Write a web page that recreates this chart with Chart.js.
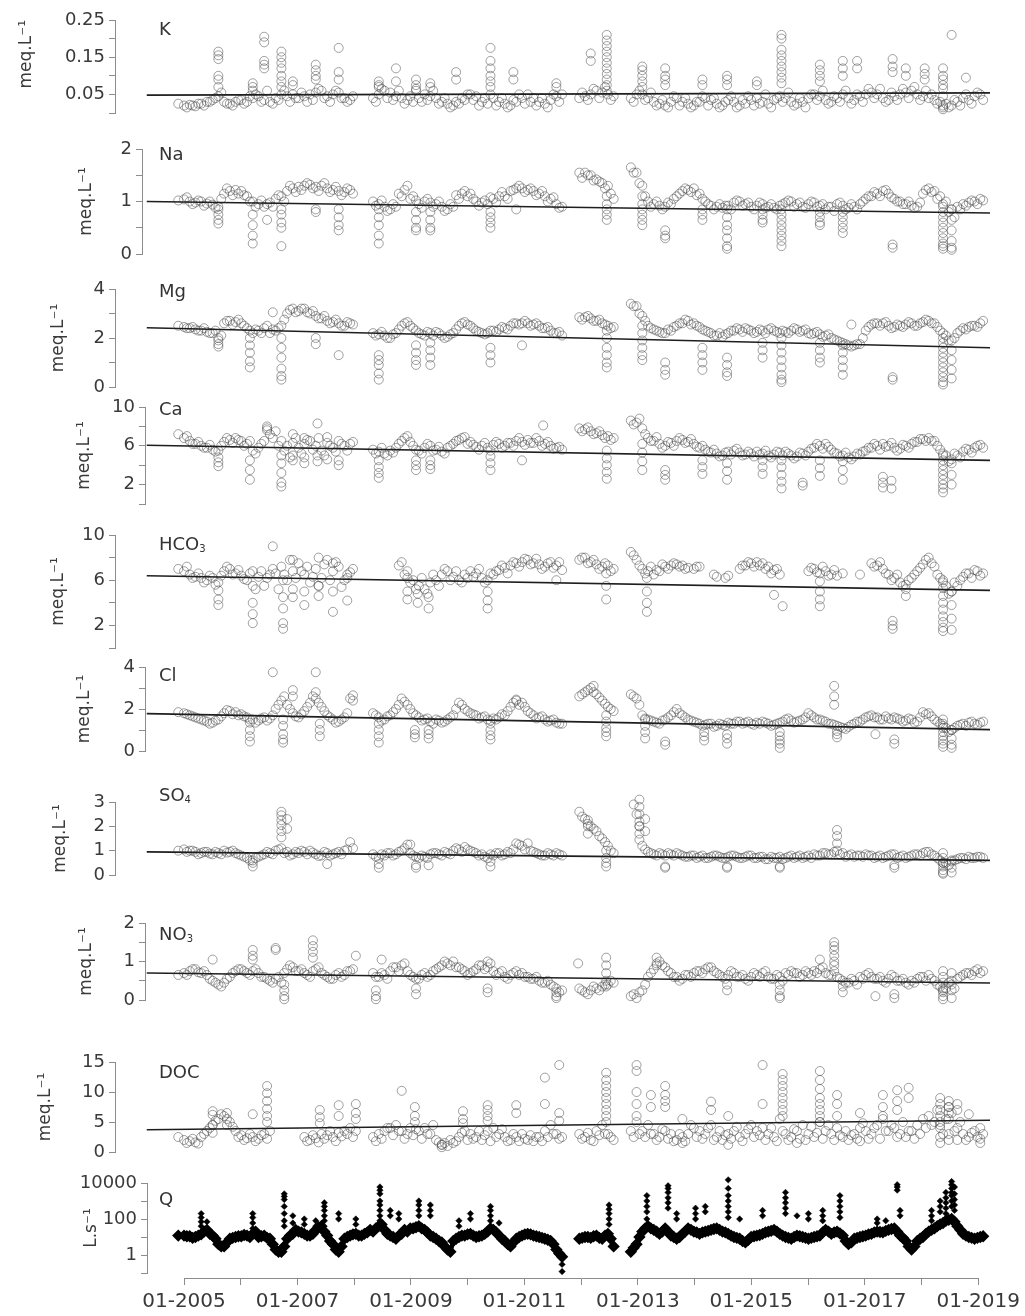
<!DOCTYPE html>
<html>
<head>
<meta charset="utf-8">
<script src="https://cdn.jsdelivr.net/npm/chart.js@4.4.1/dist/chart.umd.min.js"></script>
<style>
  html, body { margin: 0; padding: 0; background: #fff; }
  #page { position: relative; width: 1025px; height: 1316px; overflow: hidden; font-family: 'DejaVu Sans', Verdana, sans-serif; }
  #page canvas { position: absolute; left: 0; }
  .panel-label { position: absolute; left: 159px; font-size: 18px; line-height: 1; color: #333; white-space: nowrap; }
  .panel-label sub { font-size: 10px; vertical-align: -2px; }
</style>
</head>
<body>
<div id="page"></div>
<script>
// sampling dates (decimal years): first round of samples ...
const sampleDates = [2004.9,
  2005.0, 2005.1, 2005.2, 2005.3, 2005.4, 2005.5, 2005.6, 2005.7, 2005.8, 2005.9,
  2006.0, 2006.1, 2006.2, 2006.3, 2006.4, 2006.5, 2006.6, 2006.7, 2006.8, 2006.9,
  2007.0, 2007.1, 2007.2, 2007.3, 2007.4, 2007.5, 2007.6, 2007.7, 2007.8, 2007.9,
  2008.0, 2008.1, 2008.2, 2008.3, 2008.4, 2008.5, 2008.6, 2008.7, 2008.8, 2008.9,
  2009.0, 2009.1, 2009.2, 2009.3, 2009.4, 2009.5, 2009.6, 2009.7, 2009.8, 2009.9,
  2010.0, 2010.1, 2010.2, 2010.3, 2010.4, 2010.5, 2010.6, 2010.7, 2010.8, 2010.9,
  2011.0, 2011.1, 2011.2, 2011.3, 2011.4, 2011.5, 2011.6, 2011.7, 2011.8, 2011.9,
  2012.0, 2012.1, 2012.2, 2012.3, 2012.4, 2012.5, 2012.6, 2012.7, 2012.8, 2012.9,
  2013.0, 2013.1, 2013.2, 2013.3, 2013.4, 2013.5, 2013.6, 2013.7, 2013.8, 2013.9,
  2014.0, 2014.1, 2014.2, 2014.3, 2014.4, 2014.5, 2014.6, 2014.7, 2014.8, 2014.9,
  2015.0, 2015.1, 2015.2, 2015.3, 2015.4, 2015.5, 2015.6, 2015.7, 2015.8, 2015.9,
  2016.0, 2016.1, 2016.2, 2016.3, 2016.4, 2016.5, 2016.6, 2016.7, 2016.8, 2016.9,
  2017.0, 2017.1, 2017.2, 2017.3, 2017.4, 2017.5, 2017.6, 2017.7, 2017.8, 2017.9,
  2018.0, 2018.1, 2018.2, 2018.3, 2018.4, 2018.5, 2018.6, 2018.7, 2018.8, 2018.9];
// ... and the samples taken in between
const sampleDates2 = [
  2005.05, 2005.15, 2005.25, 2005.35, 2005.45, 2005.55, 2005.65, 2005.75, 2005.85, 2005.95,
  2006.05, 2006.15, 2006.25, 2006.35, 2006.45, 2006.55, 2006.65, 2006.75, 2006.85, 2006.95,
  2007.05, 2007.15, 2007.25, 2007.35, 2007.45, 2007.55, 2007.65, 2007.75, 2007.85, 2007.95,
  2008.05, 2008.15, 2008.25, 2008.35, 2008.45, 2008.55, 2008.65, 2008.75, 2008.85, 2008.95,
  2009.05, 2009.15, 2009.25, 2009.35, 2009.45, 2009.55, 2009.65, 2009.75, 2009.85, 2009.95,
  2010.05, 2010.15, 2010.25, 2010.35, 2010.45, 2010.55, 2010.65, 2010.75, 2010.85, 2010.95,
  2011.05, 2011.15, 2011.25, 2011.35, 2011.45, 2011.55, 2011.65, 2011.75, 2011.85, 2011.95,
  2012.05, 2012.15, 2012.25, 2012.35, 2012.45, 2012.55, 2012.65, 2012.75, 2012.85, 2012.95,
  2013.05, 2013.15, 2013.25, 2013.35, 2013.45, 2013.55, 2013.65, 2013.75, 2013.85, 2013.95,
  2014.05, 2014.15, 2014.25, 2014.35, 2014.45, 2014.55, 2014.65, 2014.75, 2014.85, 2014.95,
  2015.05, 2015.15, 2015.25, 2015.35, 2015.45, 2015.55, 2015.65, 2015.75, 2015.85, 2015.95,
  2016.05, 2016.15, 2016.25, 2016.35, 2016.45, 2016.55, 2016.65, 2016.75, 2016.85, 2016.95,
  2017.05, 2017.15, 2017.25, 2017.35, 2017.45, 2017.55, 2017.65, 2017.75, 2017.85, 2017.95,
  2018.05, 2018.15, 2018.25, 2018.35, 2018.45, 2018.55, 2018.65, 2018.75, 2018.85, 2018.95];

const trendDates = [2004.35, 2019.07];

// K
const kValues = [0.025,
  0.02, 0.022, 0.018, 0.025, 0.03, 0.035, 0.045, 0.03, 0.025, 0.03,
  0.035, 0.03, 0.04, 0.045, 0.035, 0.03, 0.04, 0.05, 0.045, 0.05,
  0.04, 0.045, 0.05, 0.055, 0.06, 0.045, 0.05, 0.055, 0.04, 0.035,
  null, null, null, 0.04, 0.05, 0.06, 0.055, 0.045, 0.04, 0.035,
  0.03, 0.04, 0.05, 0.045, 0.04, 0.03, 0.025, 0.02, 0.025, 0.035,
  0.05, 0.045, 0.03, 0.025, 0.04, 0.03, 0.025, 0.02, 0.03, 0.04,
  0.05, 0.04, 0.03, 0.025, 0.035, 0.045, 0.05, null, null, 0.04,
  0.045, 0.05, 0.06, 0.055, 0.05, 0.045, null, null, 0.04, 0.05,
  0.05, 0.04, 0.03, 0.025, 0.02, 0.03, 0.04, 0.03, 0.025, 0.02,
  0.03, 0.04, 0.035, 0.025, 0.02, 0.035, 0.03, 0.02, 0.025, 0.035,
  0.04, 0.03, 0.025, 0.035, 0.045, 0.04, 0.03, 0.025, 0.03, 0.04,
  0.05, 0.045, 0.035, 0.03, 0.04, 0.05, 0.04, 0.035, 0.045, 0.05,
  0.055, 0.05, 0.04, 0.035, 0.045, 0.05, 0.055, 0.06, 0.05, 0.045,
  0.04, 0.035, 0.03, 0.025, 0.02, 0.03, 0.04, 0.035, 0.045, 0.05];
const kValues2 = [
  0.015, 0.02, 0.025, 0.02, 0.03, 0.04, 0.055, 0.025, 0.02, 0.035,
  0.025, 0.045, 0.05, 0.03, 0.06, 0.025, 0.035, 0.06, 0.03, 0.04,
  0.055, 0.03, 0.035, 0.065, 0.04, 0.03, 0.06, 0.04, 0.03, 0.045,
  null, null, null, 0.03, 0.065, 0.04, 0.035, 0.06, 0.025, 0.045,
  0.06, 0.03, 0.035, 0.06, 0.025, 0.04, 0.015, 0.03, 0.04, 0.05,
  0.035, 0.02, 0.04, 0.05, 0.02, 0.04, 0.015, 0.035, 0.05, 0.025,
  0.03, 0.02, 0.04, 0.015, 0.05, 0.03, null, null, null, 0.055,
  0.035, 0.065, 0.04, 0.07, 0.035, null, null, null, 0.03, 0.06,
  0.035, 0.055, 0.02, 0.035, 0.015, 0.045, 0.02, 0.04, 0.015, 0.03,
  0.045, 0.02, 0.04, 0.015, 0.03, 0.045, 0.015, 0.035, 0.045, 0.02,
  0.025, 0.05, 0.015, 0.04, 0.03, 0.055, 0.02, 0.04, 0.015, 0.05,
  0.035, 0.06, 0.025, 0.045, 0.03, 0.06, 0.025, 0.05, 0.03, 0.065,
  0.04, 0.065, 0.03, 0.055, 0.035, 0.065, 0.04, 0.07, 0.035, 0.06,
  0.05, 0.025, 0.045, 0.015, 0.035, 0.02, 0.05, 0.025, 0.055, 0.035];
const kBursts = [
  [2005.6, 0.165, 0.155, 0.145, 0.1, 0.09, 0.07], [2006.2, 0.08, 0.07, 0.06],
  [2006.4, 0.205, 0.19, 0.14, 0.13, 0.12], [2006.7, 0.165, 0.15, 0.135, 0.12, 0.1, 0.085, 0.07],
  [2006.9, 0.085, 0.075], [2007.3, 0.13, 0.115, 0.1, 0.09], [2007.7, 0.175, 0.11, 0.09],
  [2008.4, 0.085, 0.075, 0.07], [2008.7, 0.12, 0.085], [2009.05, 0.09, 0.075, 0.065],
  [2009.3, 0.08, 0.07], [2009.75, 0.11, 0.09], [2010.35, 0.175, 0.14, 0.12, 0.1, 0.085, 0.07],
  [2010.75, 0.11, 0.09], [2011.5, 0.08, 0.07], [2012.1, 0.16, 0.14],
  [2012.38, 0.21, 0.195, 0.18, 0.165, 0.15, 0.135, 0.12, 0.105, 0.09, 0.075, 0.06],
  [2013.0, 0.125, 0.115, 0.1, 0.085, 0.07], [2013.4, 0.12, 0.1, 0.09, 0.075],
  [2014.05, 0.09, 0.075], [2014.48, 0.1, 0.09, 0.075], [2015.0, 0.085, 0.075],
  [2015.43, 0.21, 0.2, 0.17, 0.155, 0.14, 0.125, 0.11, 0.095, 0.08],
  [2016.1, 0.13, 0.115, 0.1, 0.085], [2016.5, 0.14, 0.12, 0.1], [2016.75, 0.14, 0.12],
  [2017.37, 0.145, 0.125, 0.11], [2017.6, 0.12, 0.1], [2017.93, 0.12, 0.105, 0.09],
  [2018.25, 0.12, 0.1, 0.09, 0.075, 0.065, 0.02, 0.015, 0.01], [2018.4, 0.21], [2018.65, 0.095]];
const kTrend = [0.048, 0.054];
const kTicks = [0, 0.05, 0.1, 0.15, 0.2, 0.25];
const kTickLabels = ['', '0.05', '', '0.15', '', '0.25'];

// Na
const naValues = [1.02,
  1.04, 1.0, 0.98, 1.0, 0.96, 0.94, 0.9, 1.15, 1.2, 1.22,
  1.2, 1.1, 1.0, 0.95, 0.9, 0.98, 1.05, 1.1, 1.2, 1.25,
  1.28, 1.3, 1.32, 1.28, 1.3, 1.25, 1.22, 1.2, 1.18, 1.22,
  null, null, null, 1.0, 0.95, 0.9, 0.85, 0.9, 1.1, 1.3,
  1.1, 0.95, 1.0, 0.98, 0.95, 0.9, 0.85, 0.9, 1.05, 1.2,
  1.15, 1.0, 0.98, 0.95, 1.05, 1.1, 1.1, 1.2, 1.25, 1.25,
  1.22, 1.2, 1.15, 1.1, 1.05, 0.95, 0.9, null, null, 1.55,
  1.55, 1.5, 1.42, 1.35, 1.3, 1.05, null, null, 1.65, 1.55,
  1.3, 1.0, 0.95, 0.92, 0.9, 0.95, 1.1, 1.2, 1.22, 1.25,
  1.15, 1.0, 0.92, 0.9, 0.88, 0.92, 0.98, 1.0, 0.95, 0.9,
  0.92, 0.95, 0.9, 0.88, 0.92, 0.98, 1.0, 0.95, 0.9, 0.95,
  0.98, 0.92, 0.85, 0.9, 0.95, 0.92, 0.88, 0.9, 0.95, 1.05,
  1.1, 1.15, 1.2, 1.15, 1.05, 1.0, 0.95, 0.92, 0.9, 1.15,
  1.25, 1.2, 1.1, 1.0, 0.85, 0.9, 0.95, 0.98, 1.0, 1.05];
const naValues2 = [
  1.08, 0.95, 1.02, 0.92, 1.0, 0.88, 1.05, 1.25, 1.12, 1.15,
  1.12, 1.0, 0.9, 1.02, 0.95, 0.9, 1.12, 1.0, 1.3, 1.18,
  1.22, 1.35, 1.25, 1.2, 1.35, 1.18, 1.28, 1.12, 1.25, 1.15,
  null, null, null, 0.92, 1.02, 0.82, 0.95, 1.15, 1.22, 1.05,
  1.02, 0.88, 1.05, 0.9, 1.0, 0.82, 0.95, 1.12, 1.15, 1.1,
  1.05, 0.92, 1.02, 1.08, 0.98, 1.18, 1.05, 1.22, 1.3, 1.18,
  1.25, 1.12, 1.2, 1.0, 1.08, 0.88, null, null, null, 1.45,
  1.5, 1.4, 1.38, 1.25, 1.15, null, null, null, 1.55, 1.35,
  1.1, 0.9, 1.0, 0.85, 0.98, 1.05, 1.15, 1.25, 1.18, 1.12,
  1.05, 0.95, 0.85, 0.95, 0.92, 0.85, 1.02, 0.92, 0.98, 0.85,
  0.98, 0.88, 0.95, 0.85, 0.95, 1.02, 0.9, 0.98, 0.88, 1.0,
  0.9, 0.95, 0.9, 0.82, 0.98, 0.85, 0.95, 0.85, 1.0, 1.1,
  1.18, 1.1, 1.22, 1.08, 1.0, 0.95, 1.0, 0.88, 0.98, 1.22,
  1.18, 1.05, 0.95, 0.8, 0.7, 0.85, 0.92, 1.02, 0.95, 1.02];
const naBursts = [
  [2005.6, 0.85, 0.75, 0.65, 0.58], [2006.2, 0.75, 0.55, 0.35, 0.2], [2006.45, 0.65],
  [2006.7, 0.85, 0.75, 0.6, 0.5, 0.15], [2007.3, 0.85, 0.8], [2007.7, 0.85, 0.7, 0.55, 0.45],
  [2008.4, 0.85, 0.7, 0.55, 0.35, 0.2], [2009.05, 0.8, 0.65, 0.5, 0.45], [2009.3, 0.8, 0.65, 0.5, 0.45],
  [2010.35, 0.8, 0.7, 0.6, 0.5], [2010.8, 0.85], [2012.38, 1.1, 0.95, 0.85, 0.75, 0.65],
  [2013.0, 1.1, 0.95, 0.85, 0.75, 0.65, 0.55], [2013.4, 0.45, 0.35, 0.3], [2014.05, 0.85, 0.75, 0.65],
  [2014.48, 0.85, 0.7, 0.55, 0.45, 0.3, 0.15, 0.1], [2015.1, 0.85, 0.75, 0.65, 0.6],
  [2015.43, 0.85, 0.75, 0.65, 0.55, 0.45, 0.35, 0.25, 0.15], [2016.1, 0.8, 0.7, 0.6, 0.55],
  [2016.5, 0.8, 0.7, 0.6, 0.5, 0.4], [2017.37, 0.18, 0.12],
  [2018.25, 0.9, 0.8, 0.7, 0.6, 0.5, 0.4, 0.3, 0.2, 0.15, 0.1], [2018.4, 0.85, 0.65, 0.45, 0.25, 0.12, 0.08]];
const naTrend = [1.0, 0.78];
const naTicks = [0, 0.5, 1, 1.5, 2];
const naTickLabels = ['0', '', '1', '', '2'];

// Mg
const mgValues = [2.5,
  2.45, 2.4, 2.35, 2.3, 2.25, 2.2, 2.0, 2.6, 2.7, 2.65,
  2.6, 2.4, 2.2, 2.3, 2.4, 2.2, 2.3, 2.5, 3.0, 3.2,
  3.1, 3.2, 3.0, 2.9, 2.8, 2.7, 2.65, 2.6, 2.5, 2.6,
  null, null, null, 2.2, 2.15, 2.1, 2.0, 2.2, 2.5, 2.65,
  2.4, 2.2, 2.1, 2.2, 2.25, 2.1, 2.05, 2.2, 2.5, 2.65,
  2.5, 2.3, 2.2, 2.2, 2.3, 2.35, 2.4, 2.5, 2.6, 2.6,
  2.6, 2.55, 2.5, 2.4, 2.3, 2.2, 2.1, null, null, 2.85,
  2.85, 2.8, 2.7, 2.6, 2.5, 2.45, null, null, 3.4, 3.3,
  2.9, 2.5, 2.35, 2.25, 2.2, 2.3, 2.5, 2.6, 2.7, 2.6,
  2.45, 2.3, 2.2, 2.1, 2.05, 2.2, 2.3, 2.35, 2.4, 2.3,
  2.25, 2.3, 2.35, 2.3, 2.2, 2.25, 2.3, 2.35, 2.3, 2.2,
  2.2, 2.15, 2.1, 2.0, 1.9, 1.8, 1.7, 1.7, 1.75, 2.3,
  2.55, 2.6, 2.6, 2.5, 2.45, 2.5, 2.55, 2.6, 2.5, 2.65,
  2.7, 2.6, 2.3, 2.1, 1.9, 2.2, 2.4, 2.45, 2.5, 2.6];
const mgValues2 = [
  2.4, 2.45, 2.3, 2.4, 2.2, 2.3, 2.1, 2.7, 2.55, 2.75,
  2.5, 2.3, 2.35, 2.2, 2.5, 2.35, 2.4, 2.75, 3.15, 3.05,
  3.2, 3.05, 3.1, 2.8, 2.9, 2.6, 2.75, 2.5, 2.65, 2.55,
  null, null, null, 2.1, 2.25, 2.0, 2.15, 2.35, 2.6, 2.5,
  2.3, 2.15, 2.25, 2.1, 2.2, 2.0, 2.15, 2.35, 2.6, 2.55,
  2.4, 2.25, 2.15, 2.3, 2.25, 2.45, 2.35, 2.6, 2.55, 2.7,
  2.5, 2.6, 2.4, 2.45, 2.2, 2.25, null, null, null, 2.75,
  2.9, 2.7, 2.75, 2.55, 2.4, null, null, null, 3.3, 3.0,
  2.7, 2.4, 2.3, 2.2, 2.35, 2.45, 2.6, 2.75, 2.55, 2.5,
  2.35, 2.25, 2.1, 2.2, 2.15, 2.3, 2.4, 2.25, 2.35, 2.2,
  2.35, 2.2, 2.4, 2.25, 2.3, 2.2, 2.4, 2.25, 2.35, 2.15,
  2.25, 2.05, 2.15, 1.95, 1.85, 1.75, 1.65, 1.75, 2.0, 2.45,
  2.6, 2.5, 2.65, 2.4, 2.55, 2.45, 2.65, 2.5, 2.6, 2.75,
  2.6, 2.45, 2.2, 1.9, 2.0, 2.3, 2.35, 2.5, 2.45, 2.7];
const mgBursts = [
  [2005.6, 1.9, 1.75, 1.65], [2006.15, 2.0, 1.7, 1.4, 1.05, 0.8], [2006.55, 3.05],
  [2006.7, 2.0, 1.6, 1.2, 0.75, 0.45, 0.3], [2007.3, 2.0, 1.75], [2007.7, 1.3],
  [2008.4, 1.3, 1.1, 0.9, 0.55, 0.3], [2009.05, 1.7, 1.4, 1.1, 0.9], [2009.3, 1.8, 1.5, 1.2, 0.9],
  [2010.35, 1.6, 1.3, 1.0], [2010.9, 1.7], [2012.38, 2.3, 2.0, 1.6, 1.3, 1.0, 0.8],
  [2013.0, 2.5, 2.2, 1.9, 1.6, 1.3, 1.1], [2013.4, 1.0, 0.7, 0.5], [2014.05, 1.6, 1.3, 1.0, 0.7],
  [2014.48, 1.2, 0.9, 0.6, 0.45], [2015.1, 1.8, 1.5, 1.2],
  [2015.43, 2.0, 1.7, 1.4, 1.1, 0.8, 0.5, 0.3, 0.2], [2016.1, 1.8, 1.5, 1.2, 1.0],
  [2016.5, 1.7, 1.4, 1.1, 0.8, 0.5], [2016.65, 2.55], [2017.37, 0.4, 0.3],
  [2018.25, 2.0, 1.8, 1.6, 1.4, 1.2, 1.0, 0.8, 0.6, 0.4, 0.2, 0.1], [2018.4, 1.5, 1.1, 0.7, 0.35]];
const mgTrend = [2.42, 1.6];
const mgTicks = [0, 1, 2, 3, 4];
const mgTickLabels = ['0', '', '2', '', '4'];

// Ca
const caValues = [7.2,
  6.8, 6.5, 6.2, 6.0, 5.8, 5.6, 5.5, 6.4, 6.6, 6.8,
  6.5, 6.2, 5.5, 5.8, 6.5, 7.2, 7.5, 6.5, 6.0, 6.3,
  5.8, 6.2, 6.5, 6.0, 5.5, 6.3, 5.8, 6.5, 6.0, 6.2,
  null, null, null, 5.6, 5.4, 5.2, 5.5, 5.8, 6.5, 7.0,
  6.0, 5.5, 5.8, 6.0, 5.6, 5.4, 5.8, 6.2, 6.6, 6.9,
  6.4, 5.9, 6.0, 5.8, 6.1, 6.2, 6.0, 6.3, 6.5, 6.4,
  6.6, 6.3, 6.5, 6.2, 6.0, 5.8, 5.6, null, null, 7.8,
  7.7, 7.5, 7.3, 7.1, 7.0, 6.8, null, null, 8.6, 8.4,
  7.8, 6.8, 6.5, 6.2, 6.0, 6.3, 6.5, 6.6, 6.4, 6.2,
  5.8, 5.6, 5.3, 5.2, 5.0, 5.4, 5.5, 5.3, 5.1, 5.2,
  5.4, 5.2, 5.0, 5.1, 5.3, 5.4, 5.0, 4.9, 5.2, 5.4,
  5.8, 6.0, 6.2, 5.6, 5.2, 5.0, 4.8, 4.9, 5.1, 5.5,
  5.8, 6.0, 6.2, 6.0, 5.8, 5.7, 6.0, 6.2, 6.4, 6.7,
  6.8, 6.5, 5.6, 5.0, 4.6, 5.0, 5.4, 5.6, 5.8, 6.1];
const caValues2 = [
  7.0, 6.2, 6.4, 5.8, 6.1, 5.4, 6.0, 6.8, 6.3, 6.6,
  6.0, 6.5, 5.2, 6.2, 7.8, 6.8, 6.0, 5.5, 4.8, 6.8,
  5.2, 6.6, 5.6, 6.8, 5.0, 6.0, 5.4, 6.2, 5.5, 6.4,
  null, null, null, 5.2, 5.8, 5.0, 5.3, 6.2, 6.8, 6.4,
  5.6, 5.2, 6.2, 5.5, 5.9, 5.2, 6.0, 6.5, 6.8, 6.2,
  6.1, 5.6, 6.3, 5.5, 6.4, 5.8, 6.3, 6.0, 6.8, 6.1,
  6.3, 6.8, 6.0, 6.4, 5.7, 5.9, null, null, null, 7.5,
  7.9, 7.2, 7.5, 6.8, 6.6, null, null, null, 8.2, 8.8,
  7.2, 6.5, 6.9, 5.8, 6.4, 6.0, 6.8, 6.3, 6.7, 5.9,
  6.0, 5.4, 5.6, 4.9, 5.3, 5.1, 5.7, 5.0, 5.4, 4.9,
  5.1, 5.5, 4.8, 5.4, 5.0, 5.2, 4.7, 5.3, 5.0, 5.7,
  6.2, 5.7, 5.9, 5.3, 4.9, 5.3, 4.6, 5.2, 5.4, 5.8,
  6.2, 5.6, 5.9, 6.3, 5.5, 6.1, 5.8, 6.4, 6.7, 6.5,
  6.5, 6.0, 5.2, 4.4, 5.2, 4.8, 5.7, 5.3, 6.0, 5.8];
const caBursts = [
  [2005.6, 4.8, 4.3, 3.9], [2006.15, 4.5, 3.5, 2.5], [2006.45, 8.0, 7.6],
  [2006.7, 5.0, 4.2, 3.2, 2.2, 1.8], [2006.9, 7.2, 5.0, 4.5], [2007.1, 6.8, 4.8, 4.2],
  [2007.33, 8.3, 5.0, 4.4], [2007.5, 6.9, 4.6], [2007.7, 4.5, 4.0],
  [2008.4, 4.5, 3.8, 3.2, 2.7], [2009.05, 4.5, 4.0, 3.5], [2009.3, 4.5, 4.0, 3.6],
  [2010.35, 4.9, 4.2, 3.5], [2010.9, 4.5], [2011.27, 8.1], [2012.38, 5.5, 4.7, 4.0, 3.3, 2.6],
  [2013.0, 6.2, 5.3, 4.4, 3.5], [2013.4, 3.5, 3.0, 2.5], [2014.05, 4.5, 3.8, 3.1],
  [2014.48, 4.2, 3.4, 2.5], [2015.1, 4.5, 3.8, 3.1], [2015.43, 4.5, 3.8, 3.0, 2.3, 1.6],
  [2015.8, 2.2, 1.9], [2016.1, 4.5, 3.7, 2.9], [2016.5, 4.4, 3.5, 2.5],
  [2017.2, 2.8, 2.2, 1.7], [2017.35, 2.4, 1.6],
  [2018.25, 5.0, 4.5, 4.0, 3.5, 3.0, 2.5, 2.0, 1.6, 1.2], [2018.4, 4.2, 3.0, 2.0]];
const caTrend = [6.05, 4.5];
const caTicks = [0, 2, 4, 6, 8, 10];
const caTickLabels = ['', '2', '', '6', '', '10'];

// HCO3
const hco3Values = [7.0,
  6.8, 6.5, 6.3, 6.2, 6.0, 6.2, 5.8, 6.8, 7.0, 6.6,
  6.4, 6.0, 6.8, 6.3, 5.5, 6.5, 6.6, 7.2, 6.0, 6.8,
  7.5, 6.5, 5.8, 7.0, 6.2, 7.8, 6.8, 7.2, 6.0, 6.7,
  null, null, null, null, null, null, null, null, 7.6, 6.8,
  6.0, 5.5, 5.2, 5.8, 6.0, 6.5, 6.8, 6.3, 6.0, 6.5,
  6.8, 6.6, 6.2, 6.0, 6.5, 6.9, 7.1, 7.3, 7.5, 7.6,
  7.8, 7.5, 7.4, 7.2, 7.6, 7.3, 6.9, null, null, 7.8,
  8.0, 7.6, 7.4, 7.2, 7.3, 7.0, null, null, 8.5, 7.8,
  7.0, 6.8, 6.5, 6.8, 7.2, 7.3, 7.4, 7.3, 7.1, 7.0,
  7.2, null, null, 6.3, null, 6.4, null, 7.0, 7.3, 7.5,
  7.6, 7.5, 7.2, 6.9, 6.5, null, null, null, null, 6.8,
  7.0, 6.6, 6.8, 6.5, 6.4, 6.6, null, null, 6.5, null,
  7.5, 7.3, 7.0, 6.5, 6.2, 5.8, 5.6, 6.2, 6.8, 7.4,
  8.0, 7.2, 6.2, 5.5, 5.0, 5.5, 6.3, 6.6, 6.9, 6.4];
const hco3Values2 = [
  7.2, 6.2, 6.6, 5.8, 6.4, 5.6, 6.4, 7.2, 6.5, 6.9,
  6.1, 6.6, 5.2, 6.8, 6.2, 7.0, 5.2, 6.5, 7.8, 6.2,
  6.8, 7.2, 6.3, 5.5, 7.4, 6.0, 7.6, 5.4, 6.5, 7.0,
  null, null, null, null, null, null, null, 7.3, 6.5, 5.8,
  5.2, 6.2, 4.8, 6.5, 5.5, 7.0, 6.0, 6.8, 5.8, 6.2,
  6.3, 7.0, 5.8, 6.6, 6.8, 7.3, 6.6, 7.6, 7.2, 7.9,
  7.4, 7.9, 7.0, 7.5, 7.1, 7.6, null, null, null, 8.0,
  7.5, 7.8, 7.0, 7.5, 6.8, null, null, null, 8.2, 7.3,
  6.6, 7.2, 6.9, 7.4, 7.0, 7.5, 7.2, 7.0, null, 7.2,
  null, null, 6.5, null, 6.2, null, null, 7.3, 7.6, 7.2,
  7.3, 7.0, 6.6, 7.0, null, null, null, null, null, 7.1,
  6.7, 7.2, 6.4, 6.9, null, null, null, null, null, null,
  7.2, 7.6, 6.6, 6.0, 6.5, 5.5, 6.0, 6.5, 7.1, 7.8,
  7.5, 6.5, 5.8, 4.8, 5.8, 6.0, 6.6, 6.2, 6.8, 6.6];
const hco3Bursts = [
  [2005.6, 5.1, 4.3, 3.8], [2006.2, 5.5, 4.0, 3.0, 2.2], [2006.55, 9.0],
  [2006.73, 6.0, 4.5, 3.5, 2.2, 1.7], [2006.9, 7.8, 5.2, 4.5], [2007.1, 5.0, 3.8],
  [2007.35, 8.0, 5.5, 4.6], [2007.6, 7.5, 5.0, 3.2], [2007.85, 6.2, 4.2],
  [2008.9, 6.2, 5.0, 4.3], [2009.08, 4.8, 4.0], [2009.27, 4.5, 3.5],
  [2010.3, 5.0, 4.2, 3.5], [2011.5, 6.0], [2012.37, 6.6, 5.5, 4.3],
  [2013.08, 6.2, 5.0, 4.0, 3.2], [2015.3, 4.7], [2015.45, 3.7],
  [2016.1, 5.9, 5.0, 4.3, 3.7], [2017.37, 2.4, 2.0, 1.7], [2017.6, 5.2, 4.6],
  [2018.25, 6.0, 5.3, 4.6, 4.0, 3.4, 2.8, 2.3, 1.8, 1.5], [2018.4, 5.0, 3.8, 2.6, 1.6]];
const hco3Trend = [6.4, 5.1];
const hco3Ticks = [0, 2, 4, 6, 8, 10];
const hco3TickLabels = ['', '2', '', '6', '', '10'];

// Cl
const clValues = [1.85,
  1.8, 1.7, 1.6, 1.5, 1.4, 1.35, 1.5, 1.8, 1.9, 1.85,
  1.75, 1.6, 1.5, 1.45, 1.6, 1.55, 2.0, 2.4, 2.2, 1.8,
  1.6, 1.9, 2.3, 2.5, 2.1, 1.7, 1.5, 1.4, 1.6, 2.5,
  null, null, null, 1.8, 1.6, 1.5, 1.7, 2.0, 2.5, 2.2,
  1.8, 1.6, 1.5, 1.4, 1.5, 1.35, 1.5, 1.7, 2.3, 2.0,
  1.8, 1.7, 1.6, 1.5, 1.55, 1.6, 1.7, 2.1, 2.4, 2.3,
  1.9, 1.7, 1.6, 1.5, 1.45, 1.35, 1.3, null, null, 2.6,
  2.8, 3.0, 2.7, 2.4, 2.1, 1.9, null, null, 2.7, 2.5,
  1.7, 1.5, 1.4, 1.3, 1.5, 1.7, 2.0, 1.7, 1.5, 1.4,
  1.3, 1.25, 1.3, 1.2, 1.25, 1.35, 1.3, 1.4, 1.35, 1.3,
  1.35, 1.4, 1.3, 1.25, 1.35, 1.5, 1.45, 1.4, 1.5, 1.8,
  1.6, 1.5, 1.4, 1.3, 1.2, 1.1, 1.15, 1.3, 1.4, 1.6,
  1.7, 1.6, 1.5, 1.55, 1.6, 1.5, 1.45, 1.5, 1.4, 1.85,
  1.8, 1.5, 1.3, 1.1, 1.0, 1.2, 1.3, 1.35, 1.3, 1.35];
const clValues2 = [
  1.75, 1.65, 1.55, 1.45, 1.3, 1.45, 1.65, 1.95, 1.75, 1.7,
  1.65, 1.5, 1.35, 1.55, 1.45, 1.7, 2.2, 2.6, 2.0, 1.65,
  1.75, 2.1, 2.6, 2.3, 1.9, 1.6, 1.35, 1.5, 1.8, 2.4,
  null, null, null, 1.7, 1.45, 1.65, 1.85, 2.2, 2.35, 2.0,
  1.7, 1.45, 1.55, 1.3, 1.45, 1.4, 1.6, 2.0, 2.2, 1.9,
  1.75, 1.55, 1.65, 1.45, 1.5, 1.75, 1.9, 2.3, 2.2, 2.1,
  1.8, 1.55, 1.65, 1.4, 1.5, 1.3, null, null, null, 2.7,
  2.9, 2.8, 2.55, 2.25, 2.0, null, null, null, 2.6, 2.2,
  1.55, 1.45, 1.35, 1.45, 1.6, 1.85, 1.8, 1.6, 1.45, 1.35,
  1.2, 1.3, 1.15, 1.3, 1.2, 1.3, 1.4, 1.3, 1.4, 1.25,
  1.3, 1.35, 1.2, 1.3, 1.4, 1.55, 1.35, 1.45, 1.6, 1.7,
  1.5, 1.45, 1.3, 1.25, 1.15, 1.05, 1.25, 1.4, 1.5, 1.65,
  1.6, 1.5, 1.65, 1.5, 1.55, 1.4, 1.55, 1.35, 1.6, 1.75,
  1.65, 1.4, 1.2, 0.9, 1.1, 1.25, 1.2, 1.4, 1.25, 1.4];
const clBursts = [
  [2006.15, 1.35, 1.0, 0.7, 0.45], [2006.55, 3.75], [2006.73, 1.5, 1.2, 0.8, 0.55, 0.4],
  [2006.9, 2.9, 2.6], [2007.3, 3.75, 2.8], [2007.37, 1.3, 1.0, 0.7], [2007.95, 2.65],
  [2008.4, 1.3, 1.0, 0.7, 0.4], [2009.03, 1.0, 0.8, 0.65], [2009.27, 1.0, 0.8, 0.6],
  [2010.35, 1.3, 1.0, 0.75, 0.55], [2010.8, 2.45], [2012.15, 3.1],
  [2012.37, 1.7, 1.4, 1.1, 0.9, 0.7], [2013.05, 1.5, 1.2, 0.9, 0.6], [2013.4, 0.45, 0.3],
  [2014.08, 0.9, 0.7, 0.5], [2014.48, 0.8, 0.6, 0.35], [2015.4, 0.9, 0.7, 0.5, 0.35, 0.15],
  [2016.35, 3.1, 2.6, 2.2], [2016.4, 0.95, 0.8, 0.65], [2017.07, 0.8], [2017.4, 0.55, 0.35],
  [2018.25, 1.5, 1.3, 1.1, 0.9, 0.7, 0.5, 0.35, 0.2], [2018.4, 1.0, 0.6, 0.3, 0.15]];
const clTrend = [1.78, 1.02];
const clTicks = [0, 1, 2, 3, 4];
const clTickLabels = ['0', '', '2', '', '4'];

// SO4
const so4Values = [1.0,
  1.05, 1.0, 0.95, 0.9, 0.95, 0.85, 0.9, 1.0, 0.95, 0.9,
  0.8, 0.7, 0.6, 0.75, 0.85, 0.9, 1.0, 1.1, 0.95, 0.85,
  0.9, 0.95, 1.0, 0.85, 0.8, 0.9, 0.85, 0.95, 1.0, 1.35,
  null, null, null, 0.85, 0.7, 0.8, 0.9, 0.85, 1.0, 1.25,
  0.8, 0.7, 0.75, 0.85, 0.9, 0.8, 0.9, 1.0, 1.05, 1.15,
  1.0, 0.9, 0.85, 0.7, 0.8, 0.9, 0.85, 0.9, 1.3, 1.2,
  1.3, 0.95, 0.85, 0.8, 0.85, 0.9, 0.8, null, null, 2.6,
  2.3, 2.0, 1.8, 1.5, 1.2, 0.9, null, null, 3.3, 2.5,
  1.2, 0.95, 0.85, 0.9, 0.8, 0.85, 0.9, 0.8, 0.75, 0.8,
  0.75, 0.7, 0.75, 0.8, 0.7, 0.75, 0.8, 0.7, 0.75, 0.8,
  0.7, 0.75, 0.65, 0.7, 0.75, 0.7, 0.8, 0.75, 0.7, 0.8,
  0.85, 0.8, 0.9, 0.85, 1.0, 0.9, 0.8, 0.75, 0.8, 0.85,
  0.8, 0.75, 0.7, 0.8, 0.85, 0.75, 0.7, 0.8, 0.85, 0.9,
  0.95, 0.8, 0.6, 0.5, 0.55, 0.65, 0.7, 0.75, 0.7, 0.75];
const so4Values2 = [
  0.95, 1.0, 0.85, 0.95, 0.88, 0.95, 0.85, 0.92, 1.0, 0.85,
  0.75, 0.6, 0.7, 0.8, 0.95, 0.85, 1.05, 0.9, 0.8, 0.95,
  1.0, 0.85, 0.92, 0.78, 0.95, 0.8, 0.9, 0.85, 1.05, 1.1,
  null, null, null, 0.75, 0.85, 0.9, 0.8, 0.95, 1.1, 0.9,
  0.75, 0.8, 0.7, 0.9, 0.85, 0.95, 0.85, 1.1, 0.95, 1.05,
  0.95, 0.8, 0.75, 0.85, 0.9, 0.8, 0.95, 1.05, 1.25, 1.05,
  1.0, 0.9, 0.8, 0.9, 0.8, 0.85, null, null, null, 2.4,
  2.1, 1.9, 1.6, 1.35, 1.0, null, null, null, 2.9, 2.0,
  1.05, 0.9, 0.8, 0.85, 0.9, 0.8, 0.85, 0.75, 0.8, 0.7,
  0.8, 0.7, 0.8, 0.75, 0.7, 0.8, 0.75, 0.7, 0.8, 0.7,
  0.75, 0.65, 0.75, 0.7, 0.65, 0.75, 0.7, 0.8, 0.75, 0.7,
  0.8, 0.9, 0.85, 0.95, 0.85, 0.75, 0.85, 0.8, 0.75, 0.8,
  0.7, 0.8, 0.75, 0.85, 0.7, 0.8, 0.75, 0.85, 0.8, 0.95,
  0.85, 0.7, 0.5, 0.4, 0.6, 0.7, 0.65, 0.7, 0.75, 0.7];
const so4Bursts = [
  [2006.2, 0.5, 0.35], [2006.7, 2.6, 2.45, 2.25, 2.05, 1.8, 1.55], [2006.8, 2.3, 1.9],
  [2007.5, 0.45], [2008.4, 0.45, 0.3], [2008.95, 1.25], [2009.05, 0.4, 0.3], [2009.27, 0.4],
  [2010.35, 0.55, 0.35], [2012.05, 2.25, 2.0, 1.7], [2012.37, 1.0, 0.7, 0.5, 0.35],
  [2012.95, 3.1, 2.8, 2.5, 2.2, 2.0, 1.7, 1.45], [2013.05, 2.3, 1.8], [2013.4, 0.35, 0.3],
  [2014.48, 0.35, 0.3], [2015.4, 0.35, 0.3], [2016.4, 1.85, 1.6, 1.3], [2017.4, 0.4, 0.3],
  [2018.25, 0.9, 0.7, 0.5, 0.35, 0.2, 0.1, 0.05], [2018.4, 0.6, 0.3, 0.1]];
const so4Trend = [0.95, 0.6];
const so4Ticks = [0, 1, 2, 3];
const so4TickLabels = ['0', '1', '2', '3'];

// NO3
const no3Values = [0.65,
  0.7, 0.75, 0.8, 0.7, 0.65, 0.5, 0.4, 0.45, 0.6, 0.75,
  0.8, 0.7, 0.75, 0.7, 0.6, 0.5, 0.55, 0.45, 0.8, 0.85,
  0.75, 0.7, 0.6, 0.8, 0.7, 0.6, 0.55, 0.7, 0.65, 0.75,
  null, null, null, 0.7, 0.6, 0.65, 0.75, 0.85, 0.9, 0.75,
  0.6, 0.55, 0.7, 0.65, 0.8, 0.9, 0.95, 1.0, 0.85, 0.75,
  0.7, 0.8, 0.9, 0.85, 0.75, 0.7, 0.6, 0.65, 0.75, 0.7,
  0.6, 0.55, 0.5, 0.45, 0.4, 0.3, 0.25, null, null, 0.3,
  0.2, 0.25, 0.3, 0.35, 0.4, 0.45, null, null, 0.1, 0.05,
  0.25, 0.6, 0.8, 1.0, 0.85, 0.7, 0.6, 0.55, 0.65, 0.7,
  0.75, 0.8, 0.85, 0.7, 0.6, 0.65, 0.7, 0.6, 0.55, 0.6,
  0.65, 0.7, 0.6, 0.55, 0.6, 0.7, 0.75, 0.7, 0.65, 0.7,
  0.75, 0.8, 0.7, 0.65, 0.6, 0.5, 0.45, 0.5, 0.6, 0.65,
  0.6, 0.55, 0.5, 0.55, 0.6, 0.5, 0.45, 0.5, 0.55, 0.6,
  0.65, 0.5, 0.35, 0.3, 0.4, 0.55, 0.65, 0.7, 0.75, 0.7];
const no3Values2 = [
  0.65, 0.8, 0.72, 0.75, 0.55, 0.45, 0.35, 0.55, 0.7, 0.8,
  0.75, 0.65, 0.8, 0.6, 0.55, 0.45, 0.6, 0.7, 0.9, 0.75,
  0.8, 0.65, 0.75, 0.85, 0.65, 0.55, 0.65, 0.6, 0.75, 0.8,
  null, null, null, 0.6, 0.7, 0.55, 0.85, 0.75, 0.95, 0.65,
  0.55, 0.65, 0.6, 0.75, 0.85, 1.0, 0.9, 0.85, 0.8, 0.65,
  0.75, 0.9, 0.8, 0.95, 0.65, 0.75, 0.55, 0.7, 0.65, 0.6,
  0.55, 0.6, 0.45, 0.5, 0.35, 0.2, null, null, null, 0.25,
  0.15, 0.35, 0.25, 0.4, 0.5, null, null, null, 0.15, 0.2,
  0.4, 0.7, 0.9, 0.9, 0.75, 0.6, 0.5, 0.65, 0.6, 0.75,
  0.7, 0.85, 0.75, 0.65, 0.55, 0.75, 0.6, 0.65, 0.5, 0.7,
  0.6, 0.75, 0.55, 0.65, 0.5, 0.65, 0.7, 0.6, 0.75, 0.65,
  0.7, 0.85, 0.65, 0.75, 0.55, 0.45, 0.55, 0.4, 0.55, 0.7,
  0.55, 0.6, 0.45, 0.65, 0.5, 0.55, 0.4, 0.45, 0.6, 0.5,
  0.55, 0.4, 0.25, 0.45, 0.3, 0.6, 0.7, 0.65, 0.8, 0.75];
const no3Bursts = [
  [2005.5, 1.05], [2006.2, 1.3, 1.15, 1.05], [2006.6, 1.35, 1.3], [2006.75, 0.4, 0.25, 0.1, 0.02],
  [2007.25, 1.55, 1.4, 1.25, 1.1], [2008.0, 1.15], [2008.35, 0.25, 0.1, 0.02], [2008.45, 1.05],
  [2009.05, 0.3, 0.15], [2010.3, 1.0, 0.3, 0.2], [2011.5, 0.2, 0.1, 0.05], [2011.88, 0.95],
  [2012.37, 1.1, 0.9, 0.7, 0.5, 0.35], [2013.25, 1.1, 0.95], [2014.48, 0.4, 0.25],
  [2015.4, 0.4, 0.25, 0.1, 0.05], [2016.1, 1.05], [2016.35, 1.5, 1.4, 1.3, 1.15, 1.0, 0.9],
  [2016.5, 0.35, 0.2], [2017.07, 0.1], [2017.4, 0.15, 0.05],
  [2018.25, 0.75, 0.6, 0.45, 0.3, 0.2, 0.1, 0.02], [2018.4, 0.7, 0.5, 0.25, 0.05]];
const no3Trend = [0.7, 0.44];
const no3Ticks = [0, 0.5, 1, 1.5, 2];
const no3TickLabels = ['0', '', '1', '', '2'];

// DOC
const docValues = [2.5,
  2.0, 1.8, 1.6, 2.5, 3.5, 4.5, 5.5, 6.0, 5.0, 3.5,
  2.8, 2.3, 2.5, 2.2, 3.0, 3.5, null, null, null, null,
  null, 2.5, 2.0, 2.3, 3.0, 2.8, 2.5, 3.2, 3.5, 4.0,
  3.5, null, null, 2.5, 3.0, 3.5, 4.0, 4.5, 3.5, 3.0,
  2.8, 3.5, 4.0, 3.0, 2.0, 1.2, 1.0, 1.5, 2.5, 3.5,
  3.0, 2.5, 2.0, 3.5, 4.0, 3.0, 2.5, 2.0, 2.5, 3.0,
  2.0, 1.8, 2.5, 3.5, 4.5, 3.0, 2.5, null, null, 3.0,
  2.5, 2.0, 3.5, 4.5, 3.0, 2.0, null, null, 3.5, 5.0,
  3.5, 4.5, 3.0, 2.5, 3.5, 3.0, 2.0, 2.5, 3.0, 4.0,
  3.5, 3.0, 4.5, 2.5, 2.0, 3.0, 3.5, 2.5, 3.0, 4.5,
  3.5, 4.0, 3.0, 2.5, 5.5, 3.0, 2.5, 3.5, 4.5, 3.0,
  2.5, 5.0, 3.5, 3.0, 4.0, 2.5, 2.0, 3.0, 4.0, 3.5,
  3.0, 4.5, 5.5, 3.5, 4.0, 3.0, 2.5, 3.5, 4.5, 5.5,
  6.0, 5.0, 4.5, 5.5, 6.5, 4.0, 3.0, 2.5, 3.5, 4.0];
const docValues2 = [
  1.5, 2.2, 1.4, 3.0, 4.0, 5.2, 6.3, 4.5, 4.2, 2.5,
  2.0, 3.0, 1.8, 2.8, 2.2, null, null, null, null, null,
  null, 1.8, 2.8, 1.6, 2.2, 3.5, 1.8, 2.6, 3.0, 2.5,
  null, null, null, 1.8, 2.2, 4.0, 2.8, 3.5, 2.2, 4.0,
  3.8, 2.2, 3.0, 4.5, 1.6, 1.5, 2.0, 1.8, 3.2, 2.0,
  2.2, 3.5, 2.8, 1.8, 2.5, 3.8, 1.8, 3.0, 1.8, 2.2,
  2.8, 2.5, 1.8, 2.5, 3.0, 2.2, null, null, null, 2.2,
  3.2, 1.8, 2.8, 3.0, 2.5, null, null, null, 2.5, 3.0,
  2.5, 3.0, 2.0, 3.8, 2.2, 1.8, 3.0, 1.8, 4.5, 2.5,
  2.2, 4.0, 2.0, 3.5, 2.8, 2.2, 4.2, 1.8, 3.8, 2.5,
  2.8, 2.0, 4.0, 1.8, 3.5, 2.0, 3.8, 2.2, 2.0, 4.2,
  3.2, 2.2, 4.5, 2.0, 2.8, 3.5, 2.8, 2.2, 4.8, 2.2,
  4.0, 2.2, 3.5, 4.5, 2.5, 5.0, 3.5, 2.2, 3.0, 4.0,
  4.5, 7.0, 3.0, 7.5, 3.5, 5.0, 2.0, 3.2, 2.5, 3.0];
const docBursts = [
  [2005.5, 6.8, 6.2, 4.5, 3.2], [2005.75, 6.5, 5.5], [2006.2, 6.3],
  [2006.45, 11.0, 9.8, 8.5, 7.2, 6.0, 5.0], [2007.37, 7.0, 5.8, 4.8], [2007.7, 7.8, 6.0],
  [2008.0, 8.0, 6.5, 5.5], [2008.8, 10.2], [2009.03, 7.5, 6.0, 5.0], [2009.5, 1.2, 0.8],
  [2009.87, 6.8, 5.5, 4.8], [2010.3, 7.8, 7.0, 6.0, 5.2], [2010.8, 7.8, 6.5], [2011.3, 12.4, 8.0],
  [2011.55, 14.5, 6.5, 5.2], [2012.37, 13.2, 12.0, 11.0, 10.0, 9.0, 8.0, 7.0, 6.0, 5.0],
  [2012.9, 14.5, 13.5, 10.0, 8.0, 6.0], [2013.15, 9.5, 7.5], [2013.4, 11.0, 9.5, 8.5, 7.5],
  [2013.7, 5.5, 1.5], [2014.2, 8.4, 7.0], [2014.5, 6.0, 1.2], [2015.1, 14.5, 8.0],
  [2015.45, 13.0, 12.0, 11.0, 10.0, 9.0, 8.0, 7.0, 6.0], [2015.7, 1.5],
  [2016.1, 13.5, 12.0, 10.5, 9.0, 8.0, 7.0, 6.0, 5.0], [2016.4, 9.5, 8.0, 6.0], [2016.8, 6.5, 1.8],
  [2017.2, 9.5, 7.5, 6.0], [2017.45, 10.3, 8.5, 7.0], [2017.65, 10.7, 9.0],
  [2018.2, 9.0, 8.0, 7.0, 6.0, 5.0, 4.0, 2.5, 1.5], [2018.35, 8.5, 7.5, 6.5, 5.5, 3.0, 2.0],
  [2018.5, 8.0, 7.0, 2.0], [2018.7, 6.3], [2018.9, 2.2, 1.5]];
const docTrend = [3.7, 5.3];
const docTicks = [0, 5, 10, 15];
const docTickLabels = ['0', '5', '10', '15'];

// Q (discharge, L/s, log axis)
const qValues = [12,
  12, 11, 10, 14, 25, 12, 4, 3, 8, 10,
  11, 12, 15, 10, 12, 8, 2, 1.5, 8, 15,
  20, 15, 12, 25, 40, 12, 4, 1.5, 8, 12,
  15, 12, 18, 20, 40, 25, 12, 8, 15, 20,
  30, 40, 25, 12, 8, 5, 2, 6, 10, 12,
  15, 10, 12, 20, 25, 12, 6, 3, 8, 12,
  15, 12, 10, 8, 6, 2, 0.8, null, null, 8,
  10, 9, 12, 8, 15, 3, null, null, 1.5, 4,
  20, 40, 25, 15, 30, 12, 8, 15, 30, 20,
  15, 20, 25, 30, 20, 15, 10, 8, 5, 10,
  12, 15, 20, 25, 15, 10, 8, 12, 10, 8,
  10, 12, 25, 15, 20, 12, 4, 8, 10, 12,
  15, 20, 18, 25, 30, 12, 6, 2, 6, 10,
  20, 30, 50, 80, 100, 40, 15, 10, 8, 10];
const qValues2 = [
  11, 9, 12, 20, 15, 8, 3, 5, 9, 11,
  13, 10, 20, 11, 9, 4, 1.5, 3, 12, 25,
  18, 12, 15, 35, 20, 6, 2, 3, 10, 14,
  12, 15, 25, 30, 50, 15, 10, 12, 25, 30,
  35, 30, 18, 10, 6, 3, 1.5, 8, 12, 14,
  12, 11, 15, 30, 18, 8, 4, 5, 10, 14,
  14, 11, 9, 7, 4, 1.2, null, null, null, 9,
  10, 11, 9, 12, 8, null, null, null, 2.5, 10,
  30, 30, 20, 20, 20, 10, 10, 20, 25, 18,
  18, 22, 28, 25, 18, 12, 9, 6, 7, 11,
  13, 18, 22, 20, 12, 9, 10, 11, 9, 9,
  11, 18, 20, 18, 16, 6, 5, 9, 11, 14,
  18, 19, 22, 28, 20, 9, 3, 3, 8, 15,
  25, 40, 60, 90, 70, 25, 12, 9, 9, 11];
const qBursts = [
  [2005.3, 200, 120, 70, 40], [2005.4, 70], [2006.2, 200, 120, 60, 30],
  [2006.75, 2500, 1800, 1200, 500, 200, 80, 40], [2006.9, 150, 60], [2007.1, 100, 50],
  [2007.3, 80, 40], [2007.45, 800, 500, 300, 150, 80], [2007.7, 200, 100], [2008.0, 100, 50],
  [2008.42, 6000, 4000, 2500, 1000, 600, 300, 150, 80], [2008.6, 300, 150], [2008.75, 200, 100],
  [2009.1, 1000, 600, 300, 150], [2009.3, 600, 300, 150], [2009.8, 80, 40], [2010.0, 200, 100],
  [2010.35, 500, 300, 150, 80], [2010.5, 60], [2011.6, 0.3, 0.12],
  [2012.42, 600, 350, 200, 100, 50], [2013.08, 2000, 1000, 500, 250, 100],
  [2013.45, 7000, 5000, 3000, 1500, 800, 400], [2013.6, 200, 100], [2013.93, 400, 200, 100],
  [2014.1, 500, 250], [2014.5, 15000, 5000, 2000, 1000, 500, 250, 120], [2014.7, 100],
  [2015.1, 300, 150], [2015.5, 3000, 1500, 800, 400, 200], [2015.7, 150], [2015.9, 200, 100],
  [2016.15, 300, 150, 80], [2016.45, 2000, 1000, 500, 250, 120], [2017.1, 100, 60], [2017.25, 80],
  [2017.45, 8000, 6000, 4000], [2017.5, 300, 150], [2018.05, 300, 150, 80], [2018.2, 1000, 500, 250],
  [2018.3, 3000, 1500, 800, 400, 200], [2018.4, 12000, 8000, 5000, 3000, 2000, 1000, 500],
  [2018.45, 6000, 2500, 1200, 600, 300]];
const qTicks = [0.1, 1, 10, 100, 1000, 10000];
const qTickLabels = ['', '1', '', '100', '', '10000'];

// bottom time axis
const xTickYears = [2005, 2006, 2007, 2008, 2009, 2010, 2011, 2012, 2013, 2014, 2015, 2016, 2017, 2018, 2019];
const xTickLabels = ['01-2005', '', '01-2007', '', '01-2009', '', '01-2011', '', '01-2013', '', '01-2015', '', '01-2017', '', '01-2019'];

const MEQ = 'meq.L\u207B\u00B9';
const panels = [
  { name: 'K', values: kValues, values2: kValues2, bursts: kBursts, trend: kTrend, ticks: kTicks, tickLabels: kTickLabels, unit: MEQ, axisX: 115, titleX: 26, top: 20, bottom: 113, labelTop: 20, titleAlign: 'end' },
  { name: 'Na', values: naValues, values2: naValues2, bursts: naBursts, trend: naTrend, ticks: naTicks, tickLabels: naTickLabels, unit: MEQ, axisX: 142, titleX: 86, top: 149, bottom: 254, labelTop: 145 },
  { name: 'Mg', values: mgValues, values2: mgValues2, bursts: mgBursts, trend: mgTrend, ticks: mgTicks, tickLabels: mgTickLabels, unit: MEQ, axisX: 115, titleX: 58, top: 289, bottom: 387, labelTop: 282 },
  { name: 'Ca', values: caValues, values2: caValues2, bursts: caBursts, trend: caTrend, ticks: caTicks, tickLabels: caTickLabels, unit: MEQ, axisX: 145, titleX: 84, top: 407, bottom: 504, labelTop: 400 },
  { name: 'HCO<sub>3</sub>', values: hco3Values, values2: hco3Values2, bursts: hco3Bursts, trend: hco3Trend, ticks: hco3Ticks, tickLabels: hco3TickLabels, unit: MEQ, axisX: 115, titleX: 58, top: 535, bottom: 648, labelTop: 535 },
  { name: 'Cl', values: clValues, values2: clValues2, bursts: clBursts, trend: clTrend, ticks: clTicks, tickLabels: clTickLabels, unit: MEQ, axisX: 145, titleX: 84, top: 667, bottom: 751, labelTop: 666 },
  { name: 'SO<sub>4</sub>', values: so4Values, values2: so4Values2, bursts: so4Bursts, trend: so4Trend, ticks: so4Ticks, tickLabels: so4TickLabels, unit: MEQ, axisX: 115, titleX: 60, top: 802, bottom: 875, labelTop: 786 },
  { name: 'NO<sub>3</sub>', values: no3Values, values2: no3Values2, bursts: no3Bursts, trend: no3Trend, ticks: no3Ticks, tickLabels: no3TickLabels, unit: MEQ, axisX: 145, titleX: 86, top: 923, bottom: 1000, labelTop: 925 },
  { name: 'DOC', values: docValues, values2: docValues2, bursts: docBursts, trend: docTrend, ticks: docTicks, tickLabels: docTickLabels, unit: MEQ, axisX: 115, titleX: 45, top: 1062, bottom: 1152, labelTop: 1063 },
  { name: 'Q', values: qValues, values2: qValues2, bursts: qBursts, trend: null, ticks: qTicks, tickLabels: qTickLabels, unit: 'L.s\u207B\u00B9', axisX: 147, titleX: 91, top: 1183, bottom: 1273, labelTop: 1190, log: true }
];

Chart.defaults.font.family = "'DejaVu Sans', Verdana, sans-serif";
Chart.defaults.animation = false;

const page = document.getElementById('page');
const PX_PER_YEAR = (986 - 184) / 14;   // 01-2005 at x=184, 01-2019 at x=986
const PLOT_RIGHT = 990;
const AXIS_GREY = '#8c8c8c';
const TEXT_GREY = '#3a3a3a';

function toPoints(dates, values) {
  return dates.map((d, i) => ({ x: d, y: values[i] }));
}
function burstPoints(bursts) {
  return bursts.flatMap(([d, ...vals]) => vals.map(v => ({ x: d, y: v })));
}

panels.forEach(p => {
  const pad = 16;
  const canvas = document.createElement('canvas');
  canvas.width = 1025;
  canvas.height = p.bottom - p.top + pad * 2;
  canvas.style.top = (p.top - pad) + 'px';
  page.appendChild(canvas);

  const label = document.createElement('div');
  label.className = 'panel-label';
  label.style.top = p.labelTop + 'px';
  label.innerHTML = p.name;
  page.appendChild(label);

  const padLeft = p.titleX - 10;
  const xMin = 2005 - (184 - p.axisX) / PX_PER_YEAR;
  const xMax = 2005 + (PLOT_RIGHT - 184) / PX_PER_YEAR;
  const samples = toPoints(sampleDates, p.values).concat(toPoints(sampleDates2, p.values2));

  const datasets = [];
  if (p.trend) {
    datasets.push({
      data: toPoints(trendDates, p.trend),
      showLine: true, borderColor: '#1e1e1e', borderWidth: 1.6,
      pointRadius: 0, order: 0, clip: false
    });
  }
  if (p.log) {
    // daily discharge: merge both sample rounds in time order and join them
    samples.sort((a, b) => a.x - b.x);
    datasets.push({
      data: burstPoints(p.bursts),
      pointStyle: 'rectRot', pointRadius: 3.2, pointBackgroundColor: '#000', pointBorderColor: '#000',
      pointBorderWidth: 0.5, order: 1, clip: false
    });
    datasets.push({
      data: samples,
      showLine: true, spanGaps: false, borderColor: '#000', borderWidth: 4.5,
      pointStyle: 'rectRot', pointRadius: 3, pointBackgroundColor: '#000', pointBorderColor: '#000',
      order: 2, clip: false
    });
  } else {
    const pointStyle = {
      pointStyle: 'circle', pointRadius: 4.5,
      pointBackgroundColor: 'rgba(255,255,255,0)',
      pointBorderColor: 'rgba(70,70,70,0.5)', pointBorderWidth: 1, clip: false
    };
    datasets.push(Object.assign({ data: burstPoints(p.bursts), order: 1 }, pointStyle));
    datasets.push(Object.assign({ data: samples, order: 2 }, pointStyle));
  }

  new Chart(canvas, {
    type: 'scatter',
    data: { datasets },
    options: {
      responsive: false,
      layout: { padding: { left: padLeft, right: 1025 - PLOT_RIGHT, top: pad, bottom: pad } },
      plugins: { legend: { display: false }, tooltip: { enabled: false } },
      scales: {
        x: { type: 'linear', display: false, min: xMin, max: xMax },
        y: {
          type: p.log ? 'logarithmic' : 'linear',
          min: p.ticks[0], max: p.ticks[p.ticks.length - 1],
          afterBuildTicks: s => { s.ticks = p.ticks.map(v => ({ value: v })); },
          afterFit: s => { s.width = p.axisX - padLeft; },
          ticks: {
            autoSkip: false, padding: 4, color: TEXT_GREY, font: { size: 18 },
            callback: (v, i) => p.tickLabels[i]
          },
          grid: { drawOnChartArea: false, drawTicks: true, tickLength: 6, color: AXIS_GREY },
          border: { display: true, color: AXIS_GREY, width: 1 },
          title: {
            display: true, text: p.unit, color: TEXT_GREY, font: { size: 17 },
            padding: 0, align: p.titleAlign || 'center'
          }
        }
      }
    }
  });
});

// shared time axis under the Q panel
const axisCanvas = document.createElement('canvas');
axisCanvas.width = 1025;
axisCanvas.height = 66;
axisCanvas.style.top = '1250px';
page.appendChild(axisCanvas);
new Chart(axisCanvas, {
  type: 'scatter',
  data: { datasets: [{ data: [] }] },
  options: {
    responsive: false,
    layout: { padding: { left: 184, right: 1025 - 986, top: 0, bottom: 0 } },
    plugins: { legend: { display: false }, tooltip: { enabled: false } },
    scales: {
      x: {
        type: 'linear', min: 2005, max: 2019, position: 'bottom',
        afterBuildTicks: s => { s.ticks = xTickYears.map(v => ({ value: v })); },
        afterFit: s => { s.height = 38; },
        ticks: {
          autoSkip: false, maxRotation: 0, padding: 5, color: TEXT_GREY, font: { size: 20 },
          callback: (v, i) => xTickLabels[i]
        },
        grid: { drawOnChartArea: false, tickLength: 7, color: AXIS_GREY },
        border: { display: true, color: AXIS_GREY, width: 1 }
      },
      y: { display: false, min: 0, max: 1 }
    }
  }
});
</script>
</body>
</html>
